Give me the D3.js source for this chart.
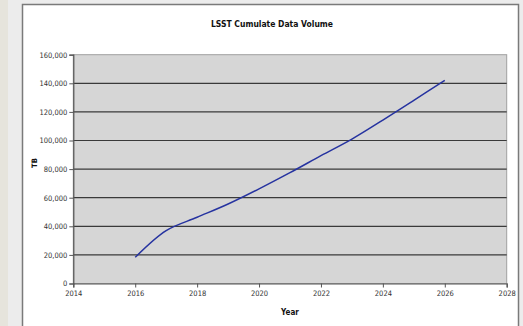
<!DOCTYPE html>
<html>
<head>
<meta charset="utf-8">
<script src="https://cdn.jsdelivr.net/npm/d3@7"></script>
<style>
  html, body { margin: 0; padding: 0; background: #ececec; }
  svg { display: block; }
</style>
</head>
<body>
<div id="chart"></div>
<script>
// values
var years = [2016, 2017, 2018, 2019, 2020, 2021, 2022, 2023, 2024, 2025, 2026];
var volumeTB = [18300, 37000, 46300, 55600, 66200, 77500, 89400, 101000, 114300, 128100, 142100];
var xTicks = [2014, 2016, 2018, 2020, 2022, 2024, 2026, 2028];
var yTicks = [0, 20000, 40000, 60000, 80000, 100000, 120000, 140000, 160000];

var WIDTH = 523;
var HEIGHT = 326;
var FONT = "'DejaVu Sans Condensed', 'DejaVu Sans', sans-serif";
var PLOT_FILL = '#d6d6d6';
var GRID_COLOR = '#3a3a3a';
var LINE_COLOR = '#2633a0';

var plotLeft = 73.3;
var plotRight = 506.7;
var plotTop = 54.7;
var plotBot = 283.5;

var root = d3.select('#chart')
  .append('svg')
  .attr('width', WIDTH)
  .attr('height', HEIGHT);

// page background, left textured strip
root.append('rect')
  .attr('x', 0).attr('y', 0)
  .attr('width', WIDTH).attr('height', HEIGHT)
  .style('fill', '#ececec');
root.append('rect')
  .attr('x', 0).attr('y', 0)
  .attr('width', 8).attr('height', HEIGHT)
  .style('fill', '#e6e4dc');

// chart frame
root.append('rect')
  .attr('x', 22.5).attr('y', 4.5)
  .attr('width', 496).attr('height', HEIGHT + 10)
  .style('fill', '#ffffff')
  .style('stroke', '#7a7a7a')
  .style('stroke-width', 1.5);

var x = d3.scaleLinear().domain([2014, 2028]).range([plotLeft, plotRight]);
var y = d3.scaleLinear().domain([0, 160000]).range([plotBot, plotTop]);

// plot area
root.append('rect')
  .attr('x', x(2014)).attr('y', y(160000))
  .attr('width', x(2028) - x(2014))
  .attr('height', y(0) - y(160000))
  .style('fill', PLOT_FILL)
  .style('stroke', '#a0a0a0')
  .style('stroke-width', 1);

// horizontal grid
root.selectAll('line.grid')
  .data(yTicks.filter(function(d) { return d > 0 && d < 160000; }))
  .enter().append('line')
  .attr('class', 'grid')
  .attr('x1', x(2014)).attr('x2', x(2028))
  .attr('y1', function(d) { return y(d); })
  .attr('y2', function(d) { return y(d); })
  .style('stroke', GRID_COLOR)
  .style('stroke-width', 1.2);

// axes
var yAxis = d3.axisLeft(y)
  .tickValues(yTicks)
  .tickSize(4)
  .tickPadding(2)
  .tickFormat(d3.format(','));
var xAxis = d3.axisBottom(x)
  .tickValues(xTicks)
  .tickSize(4)
  .tickPadding(3)
  .tickFormat(d3.format('d'));

var gy = root.append('g')
  .attr('transform', 'translate(' + x(2014) + ',0)')
  .call(yAxis);
var gx = root.append('g')
  .attr('transform', 'translate(0,' + y(0) + ')')
  .call(xAxis);

[gx, gy].forEach(function(g) {
  g.selectAll('path.domain').style('stroke', '#555').style('stroke-width', 1.2);
  g.selectAll('.tick line').style('stroke', '#555');
  g.selectAll('text')
    .style('font-family', FONT)
    .style('font-size', '7.5px')
    .style('fill', '#333');
});

// data line
var line = d3.line()
  .x(function(d, i) { return x(years[i]); })
  .y(function(d) { return y(d); })
  .curve(d3.curveCatmullRom);

root.append('path')
  .datum(volumeTB)
  .attr('d', line)
  .style('fill', 'none')
  .style('stroke', LINE_COLOR)
  .style('stroke-width', 1.5);

// titles
root.append('text')
  .attr('x', 272).attr('y', 27)
  .attr('text-anchor', 'middle')
  .style('font-family', FONT)
  .style('font-weight', 'bold')
  .style('font-size', '8.5px')
  .style('fill', '#111')
  .text('LSST Cumulate Data Volume');

root.append('text')
  .attr('x', 290).attr('y', 315)
  .attr('text-anchor', 'middle')
  .style('font-family', FONT)
  .style('font-weight', 'bold')
  .style('font-size', '8px')
  .style('fill', '#111')
  .text('Year');

root.append('text')
  .attr('transform', 'translate(37,163) rotate(-90)')
  .attr('text-anchor', 'middle')
  .style('font-family', FONT)
  .style('font-weight', 'bold')
  .style('font-size', '7.5px')
  .style('fill', '#111')
  .text('TB');
</script>
</body>
</html>
